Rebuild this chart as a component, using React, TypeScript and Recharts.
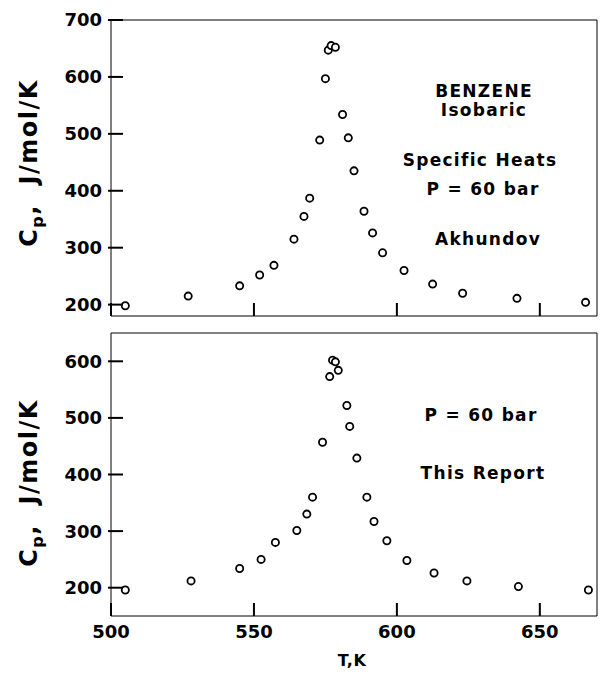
import React from 'react';
import { ScatterChart, Scatter, XAxis, YAxis } from 'recharts';

// Akhundov data (top panel)
const akhundovT = [505, 527, 545, 552, 557, 564, 567.5, 569.5, 573, 575, 576, 577, 578.5, 581, 583, 585, 588.5, 591.5, 595, 602.5, 612.5, 623, 642, 666];
const akhundovCp = [198, 215, 233, 252, 269, 315, 355, 387, 489, 597, 647, 655, 652, 534, 493, 435, 364, 326, 291, 260, 236, 220, 211, 204];

// This report (bottom panel)
const reportT = [505, 528, 545, 552.5, 557.5, 565, 568.5, 570.5, 574, 576.5, 577.5, 578.5, 579.5, 582.5, 583.5, 586, 589.5, 592, 596.5, 603.5, 613, 624.5, 642.5, 667];
const reportCp = [196, 212, 234, 250, 280, 301, 330, 360, 457, 573, 602, 599, 584, 522, 485, 429, 360, 317, 283, 248, 226, 212, 202, 196];

const xTicks = [500, 550, 600, 650];
const xDomain = [500, 670];
const topYTicks = [200, 300, 400, 500, 600, 700];
const topYDomain = [180, 700];
const bottomYTicks = [200, 300, 400, 500, 600];
const bottomYDomain = [150, 650];

const topNotes = [
  { text: 'BENZENE', x: 484, base: 97 },
  { text: 'Isobaric', x: 484, base: 116 },
  { text: 'Specific Heats', x: 480, base: 166.5 },
  { text: 'P = 60 bar', x: 483, base: 195 },
  { text: 'Akhundov', x: 488, base: 245 },
];
const bottomNotes = [
  { text: 'P = 60 bar', x: 481, base: 421.5 },
  { text: 'This Report', x: 483, base: 479 },
];

const FONT = '"DejaVu Sans", Verdana, sans-serif';
const labelFont = { fontFamily: FONT, fontWeight: 700, fontSize: 18, fill: '#000' } as const;

const toPoints = (xs: number[], ys: number[]) => xs.map((t, i) => ({ t, cp: ys[i] }));

const Ring = (p: any) => (
  <circle cx={p.cx} cy={p.cy} r={3.6} fill="#fff" stroke="#000" strokeWidth={1.8} />
);

// inward ticks; recharts puts the tick 2px (default tickMargin) off the axis
const tickPath = { stroke: '#000', strokeWidth: 2, fill: 'none' };
const LeftTick = (p: any) => {
  const ax = p.x + 2;
  return (
    <g>
      <path d={`M${ax - 3},${p.y}H${ax + 12}`} {...tickPath} />
      <text x={ax - 9} y={p.y} dy="0.36em" textAnchor="end" style={labelFont}>{p.payload.value}</text>
    </g>
  );
};
const RightTick = (p: any) => {
  const ax = p.x - 2;
  return <path d={`M${ax},${p.y}H${ax - 12}`} {...tickPath} />;
};
const TopTick = (p: any) => {
  const ay = p.y + 2;
  return <path d={`M${p.x},${ay}V${ay + 12}`} {...tickPath} />;
};
const makeBottomTick = (showLabel: boolean) => (p: any) => {
  const ay = p.y - 2;
  return (
    <g>
      <path d={`M${p.x},${ay}V${ay - 13}`} {...tickPath} />
      {showLabel && (
        <text x={p.x} y={ay + 9} dy="0.73em" textAnchor="middle" style={labelFont}>{p.payload.value}</text>
      )}
    </g>
  );
};

interface PanelProps {
  data: { t: number; cp: number }[];
  yDomain: number[];
  yTicks: number[];
  height: number;
  marginTop: number;
  bottomAxisHeight: number;
  showX: boolean;
}

const Panel = ({ data, yDomain, yTicks, height, marginTop, bottomAxisHeight, showX }: PanelProps) => (
  <ScatterChart width={601} height={height} margin={{ top: marginTop, right: 0, bottom: 0, left: 0 }}>
    <XAxis xAxisId="b" dataKey="t" type="number" domain={xDomain} ticks={xTicks} height={bottomAxisHeight}
      stroke="#000" tickLine={false} tickSize={0} tick={makeBottomTick(showX)} />
    <XAxis xAxisId="t" orientation="top" type="number" domain={xDomain} ticks={xTicks} height={1}
      stroke="#000" tickLine={false} tickSize={0} tick={TopTick} />
    <YAxis yAxisId="l" dataKey="cp" type="number" domain={yDomain} ticks={yTicks} width={111}
      stroke="#000" tickLine={false} tickSize={0} tick={LeftTick} />
    <YAxis yAxisId="r" orientation="right" type="number" domain={yDomain} ticks={yTicks} width={4}
      stroke="#000" tickLine={false} tickSize={0} tick={RightTick} />
    <Scatter data={data} xAxisId="b" yAxisId="l" shape={Ring} isAnimationActive={false} />
  </ScatterChart>
);

// HTML text placed by baseline (DejaVu: baseline ~0.846em below top with line-height 1em)
const Note = ({ text, x, base, size = 17, spacing = 1.3 }: { text: string; x: number; base: number; size?: number; spacing?: number }) => (
  <div
    style={{
      position: 'absolute',
      left: x,
      top: base - 0.846 * size,
      transform: 'translateX(-50%)',
      whiteSpace: 'pre',
      fontFamily: FONT,
      fontWeight: 700,
      fontSize: size,
      lineHeight: `${size}px`,
      letterSpacing: spacing,
      color: '#000',
    }}
  >
    {text}
  </div>
);

const YLabel = ({ cx, cy }: { cx: number; cy: number }) => (
  <div
    style={{
      position: 'absolute',
      left: cx,
      top: cy,
      transform: 'translate(-50%, -50%) rotate(-90deg)',
      whiteSpace: 'pre',
      fontFamily: FONT,
      fontWeight: 700,
      fontSize: 24,
      lineHeight: '28px',
      letterSpacing: 1.5,
      color: '#000',
    }}
  >
    C<span style={{ fontSize: 16, position: 'relative', top: 6 }}>p</span>{',  J/mol/K'}
  </div>
);

export default function App() {
  return (
    <div style={{ position: 'absolute', left: 0, top: 0, width: 601, height: 676, background: '#fff' }}>
      <div style={{ position: 'absolute', left: 0, top: 0 }}>
        <Panel
          data={toPoints(akhundovT, akhundovCp)}
          yDomain={topYDomain}
          yTicks={topYTicks}
          height={330}
          marginTop={19}
          bottomAxisHeight={14}
          showX={false}
        />
      </div>
      <div style={{ position: 'absolute', left: 0, top: 320 }}>
        <Panel
          data={toPoints(reportT, reportCp)}
          yDomain={bottomYDomain}
          yTicks={bottomYTicks}
          height={356}
          marginTop={12}
          bottomAxisHeight={60}
          showX={true}
        />
      </div>
      <YLabel cx={30} cy={163} />
      <YLabel cx={30} cy={483} />
      {topNotes.map((n) => <Note key={`t-${n.text}`} {...n} />)}
      {bottomNotes.map((n) => <Note key={`b-${n.text}`} {...n} />)}
      <Note text="T,K" x={352} base={667} size={16} spacing={0.5} />
    </div>
  );
}
